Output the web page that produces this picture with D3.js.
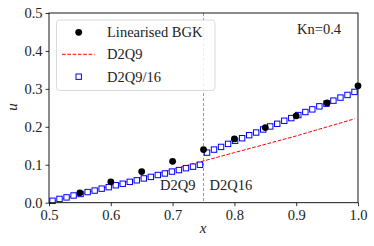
<!DOCTYPE html>
<html>
<head>
<meta charset="utf-8">
<script src="https://cdn.jsdelivr.net/npm/d3@7"></script>
<style>
  html, body { margin: 0; padding: 0; background: #fff; }
  svg text { font-family: "Liberation Serif", "DejaVu Serif", serif; }
</style>
</head>
<body>
<div id="chart"></div>
<script>
// Linearised BGK reference points
const bgkX = [0.55, 0.60, 0.65, 0.70, 0.75, 0.80, 0.85, 0.90, 0.95, 1.00];
const bgkU = [0.026, 0.055, 0.082, 0.109, 0.140, 0.168, 0.198, 0.229, 0.263, 0.308];

// D2Q9 (red dashed)
const d2q9X = [0.5057, 0.6, 0.7, 0.75, 0.8, 0.9, 0.9943];
const d2q9U = [0.003, 0.044, 0.088, 0.110, 0.132, 0.176, 0.221];

// D2Q9/16 hybrid (blue squares)
const hybX = [0.5057, 0.5170, 0.5284, 0.5398, 0.5511, 0.5625, 0.5739, 0.5852, 0.5966, 0.6080, 0.6193,
              0.6307, 0.6420, 0.6534, 0.6648, 0.6761, 0.6875, 0.6989, 0.7102, 0.7216, 0.7330, 0.7443,
              0.7557, 0.7670, 0.7784, 0.7898, 0.8011, 0.8125, 0.8239, 0.8352, 0.8466, 0.8580, 0.8693,
              0.8807, 0.8920, 0.9034, 0.9148, 0.9261, 0.9375, 0.9489, 0.9602, 0.9716, 0.9830, 0.9943];
const hybU = [0.005, 0.010, 0.014, 0.019, 0.023, 0.028, 0.032, 0.037, 0.041, 0.046, 0.050,
              0.055, 0.059, 0.064, 0.068, 0.073, 0.077, 0.082, 0.086, 0.091, 0.095, 0.100,
              0.132, 0.140, 0.147, 0.155, 0.163, 0.170, 0.178, 0.185, 0.193, 0.201, 0.208,
              0.216, 0.223, 0.231, 0.239, 0.246, 0.254, 0.261, 0.269, 0.277, 0.284, 0.292];

const xTicks = [0.5, 0.6, 0.7, 0.8, 0.9, 1.0];
const yTicks = [0.0, 0.1, 0.2, 0.3, 0.4, 0.5];
const interfaceX = 0.75;

const width = 374, height = 246;
const margin = {left: 49, right: 16, top: 13, bottom: 44};

const svg = d3.select("#chart").append("svg")
    .attr("width", width)
    .attr("height", height);

let x = d3.scaleLinear().domain([0.5, 1.0]).range([margin.left, width - margin.right]);
let y = d3.scaleLinear().domain([0, 0.5]).range([height - margin.bottom + 0.7, margin.top]);

const plotW = width - margin.right - margin.left;
const plotH = y(0) - y(0.5);

// axes
let xAxisGroup = svg.append("g")
    .attr("transform", `translate(0, ${y(0)})`)
    .call(d3.axisBottom(x).tickValues(xTicks).tickFormat(d3.format(".1f")).tickSizeOuter(0).tickSize(3.5).tickPadding(4));
let yAxisGroup = svg.append("g")
    .attr("transform", `translate(${x(0.5)}, 0)`)
    .call(d3.axisLeft(y).tickValues(yTicks).tickFormat(d3.format(".1f")).tickSizeOuter(0).tickSize(3.5).tickPadding(3));

[xAxisGroup, yAxisGroup].forEach(g => {
  g.select(".domain").remove();
  g.selectAll("line").attr("stroke", "#000").attr("stroke-width", 0.8);
  g.selectAll("text")
    .attr("font-family", "Liberation Serif, serif")
    .attr("font-size", "14.5px")
    .attr("fill", "#222");
});

// interface line
svg.append("line")
    .attr("x1", x(interfaceX)).attr("x2", x(interfaceX))
    .attr("y1", y(0.5)).attr("y2", y(0))
    .attr("stroke", "#808080")
    .attr("stroke-width", 0.8)
    .attr("stroke-dasharray", "3,2");

svg.append("text")
    .attr("x", x(interfaceX) - 8).attr("y", 190)
    .attr("text-anchor", "end")
    .attr("font-size", "14.5px")
    .attr("fill", "#222")
    .text("D2Q9");
svg.append("text")
    .attr("x", x(interfaceX) + 6).attr("y", 190)
    .attr("font-size", "14.5px")
    .attr("fill", "#222")
    .text("D2Q16");

// D2Q9 line
let line = d3.line().x((d, i) => x(d2q9X[i])).y(d => y(d));
svg.append("path")
    .datum(d2q9U)
    .attr("d", line)
    .attr("fill", "none")
    .attr("stroke", "#ff0000")
    .attr("stroke-width", 1)
    .attr("stroke-dasharray", "3.7,1.6");

// D2Q9/16 squares
svg.selectAll("rect.hyb")
    .data(hybU)
    .enter()
    .append("rect")
    .attr("class", "hyb")
    .attr("x", (d, i) => x(hybX[i]) - 2.7)
    .attr("y", d => y(d) - 2.7)
    .attr("width", 5.4)
    .attr("height", 5.4)
    .attr("fill", "#fff")
    .attr("stroke", "#0000ff")
    .attr("stroke-width", 1);

// BGK points
svg.selectAll("circle.bgk")
    .data(bgkU)
    .enter()
    .append("circle")
    .attr("class", "bgk")
    .attr("cx", (d, i) => x(bgkX[i]))
    .attr("cy", d => y(d))
    .attr("r", 3.4)
    .attr("fill", "#000");

// frame
svg.append("rect")
    .attr("x", x(0.5)).attr("y", y(0.5))
    .attr("width", plotW).attr("height", plotH)
    .attr("fill", "none")
    .attr("stroke", "#000")
    .attr("stroke-width", 0.9);

// legend
let leg = svg.append("g");
leg.append("rect")
    .attr("x", 56.5).attr("y", 20)
    .attr("width", 158.5).attr("height", 70.5)
    .attr("rx", 3)
    .attr("fill", "#fff")
    .attr("fill-opacity", 0.85)
    .attr("stroke", "#d0d0d0")
    .attr("stroke-width", 0.8);
leg.append("circle")
    .attr("cx", 78.7).attr("cy", 32.3).attr("r", 3.4).attr("fill", "#000");
leg.append("line")
    .attr("x1", 62).attr("x2", 94.5).attr("y1", 54.3).attr("y2", 54.3)
    .attr("stroke", "#ff0000").attr("stroke-width", 1).attr("stroke-dasharray", "3.7,1.6");
leg.append("rect")
    .attr("x", 78.7 - 2.7).attr("y", 76.7 - 2.7)
    .attr("width", 5.4).attr("height", 5.4)
    .attr("fill", "#fff").attr("stroke", "#0000ff").attr("stroke-width", 1);
const legNames = ["Linearised BGK", "D2Q9", "D2Q9/16"];
const legBase = [37.3, 59.3, 81.7];
leg.selectAll("text.lab")
    .data(legNames)
    .enter()
    .append("text")
    .attr("x", 107)
    .attr("y", (d, i) => legBase[i])
    .attr("font-size", "14.5px")
    .attr("fill", "#222")
    .text(d => d);

// Kn annotation
svg.append("text")
    .attr("x", 297).attr("y", 34.3)
    .attr("font-size", "14.5px")
    .attr("fill", "#222")
    .text("Kn=0.4");

// axis labels
svg.append("text")
    .attr("x", 203).attr("y", 233)
    .attr("text-anchor", "middle")
    .attr("font-style", "italic")
    .attr("font-size", "15px")
    .attr("fill", "#222")
    .text("x");
svg.append("text")
    .attr("transform", "translate(17, 107) rotate(-90)")
    .attr("text-anchor", "middle")
    .attr("font-style", "italic")
    .attr("font-size", "15px")
    .attr("fill", "#222")
    .text("u");
</script>
</body>
</html>
